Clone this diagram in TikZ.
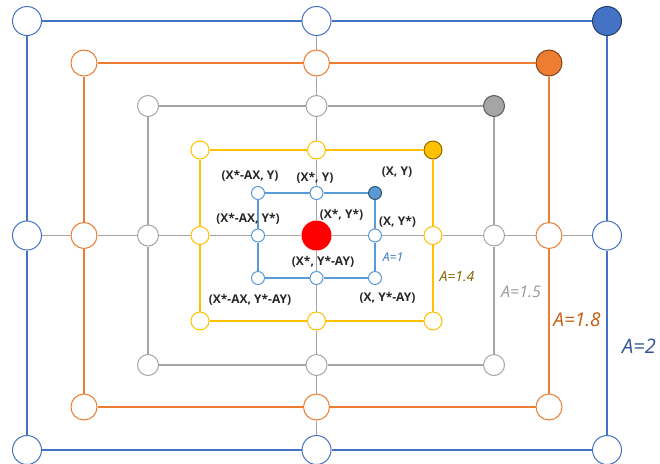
\documentclass[tikz,border=0pt]{standalone}
\usepackage{fontspec}
\setsansfont{Open Sans}
\definecolor{ringten}{HTML}{5B9BD5}
\definecolor{ringfourteen}{HTML}{FFC000}
\definecolor{ringfifteen}{HTML}{A5A5A5}
\definecolor{ringeighteen}{HTML}{ED7D31}
\definecolor{ringtwenty}{HTML}{4472C4}
\definecolor{txtten}{HTML}{2E75B6}
\definecolor{txtfourteen}{HTML}{7F6000}
\definecolor{txtfifteen}{HTML}{999999}
\definecolor{txteighteen}{HTML}{C55A11}
\definecolor{txttwenty}{HTML}{2F5597}
\definecolor{coordtxt}{HTML}{262626}
\begin{document}
\begin{tikzpicture}[
    x=1pt, % one unit is one pixel of the reference
    y=-1pt, % y grows downwards, as in the reference
    spot/.style={circle, inner sep=0pt, fill=white, line width=1pt},
    edge/.style={line width=1.1pt},
    cross/.style={ringfifteen, line width=0.8pt},
    coord/.style={font=\sffamily\bfseries\fontsize{12}{14}\selectfont, text=coordtxt, inner sep=1pt},
    alabel/.style={font=\sffamily\itshape, inner sep=1pt}
    ]
\useasboundingbox (0,0) rectangle (660,463);

% --- Rings: name / left / right / top / bottom / size / colour ---
\foreach \nm/\l/\r/\t/\b/\sz/\col in {
    aten/258/375/193/278/13/ringten,
    afourteen/200/433/150/321/18/ringfourteen,
    afifteen/148/494/106/365/21/ringfifteen,
    aeighteen/84/549/63/407/26/ringeighteen,
    atwenty/27/607/21/450/29/ringtwenty} {
    \node[spot, minimum size=\sz pt, draw=\col] (\nm-tl) at (\l, \t) {};
    \node[spot, minimum size=\sz pt, draw=\col] (\nm-tm) at (316.5, \t) {};
    \node[spot, minimum size=\sz pt, draw=\col!55!black, fill=\col] (\nm-tr) at (\r, \t) {};
    \node[spot, minimum size=\sz pt, draw=\col] (\nm-ml) at (\l, 235.5) {};
    \node[spot, minimum size=\sz pt, draw=\col] (\nm-mr) at (\r, 235.5) {};
    \node[spot, minimum size=\sz pt, draw=\col] (\nm-bl) at (\l, \b) {};
    \node[spot, minimum size=\sz pt, draw=\col] (\nm-bm) at (316.5, \b) {};
    \node[spot, minimum size=\sz pt, draw=\col] (\nm-br) at (\r, \b) {};
    \draw[edge, \col] (\nm-tl) -- (\nm-tm) -- (\nm-tr) -- (\nm-mr) -- (\nm-br)
        -- (\nm-bm) -- (\nm-bl) -- (\nm-ml) -- (\nm-tl);
}

% --- Centre point ---
\node[circle, inner sep=0pt, minimum size=30pt, fill=red] (centre) at (316.5, 235.5) {};

% --- Grey cross through the centre ---
\draw[cross] (atwenty-ml) -- (aeighteen-ml) -- (afifteen-ml) -- (afourteen-ml)
    -- (aten-ml) -- (centre) -- (aten-mr) -- (afourteen-mr) -- (afifteen-mr)
    -- (aeighteen-mr) -- (atwenty-mr);
\draw[cross] (atwenty-tm) -- (aeighteen-tm) -- (afifteen-tm) -- (afourteen-tm)
    -- (aten-tm) -- (centre) -- (aten-bm) -- (afourteen-bm) -- (afifteen-bm)
    -- (aeighteen-bm) -- (atwenty-bm);

% --- Coordinate labels ---
\node[coord] (lbl-tl) at (250, 176) {(X*-AX, Y)};
\node[coord] (lbl-tm) at (315, 178) {(X*, Y)};
\node[coord] (lbl-tr) at (397, 172) {(X, Y)};
\node[coord] (lbl-ml) at (248, 219) {(X*-AX, Y*)};
\node[coord] (lbl-c)  at (341.5, 215) {(X*, Y*)};
\node[coord] (lbl-mr) at (397.5, 222) {(X, Y*)};
\node[coord] (lbl-bm) at (323, 262) {(X*, Y*-AY)};
\node[coord] (lbl-bl) at (250, 300) {(X*-AX, Y*-AY)};
\node[coord] (lbl-br) at (387.5, 298) {(X, Y*-AY)};

% --- Scale labels ---
\node[alabel, text=txtten, font=\sffamily\itshape\fontsize{12}{14}\selectfont] (lbl-aten) at (393, 257) {A=1};
\node[alabel, text=txtfourteen, font=\sffamily\itshape\fontsize{14}{16}\selectfont] (lbl-afourteen) at (457, 277) {A=1.4};
\node[alabel, text=txtfifteen, font=\sffamily\itshape\fontsize{16}{18}\selectfont] (lbl-afifteen) at (521, 292) {A=1.5};
\node[alabel, text=txteighteen, font=\sffamily\itshape\fontsize{19}{21}\selectfont] (lbl-aeighteen) at (577, 320) {A=1.8};
\node[alabel, text=txttwenty, font=\sffamily\itshape\fontsize{20}{22}\selectfont, anchor=west] (lbl-atwenty) at (621, 346) {A=2};

\end{tikzpicture}
\end{document}
